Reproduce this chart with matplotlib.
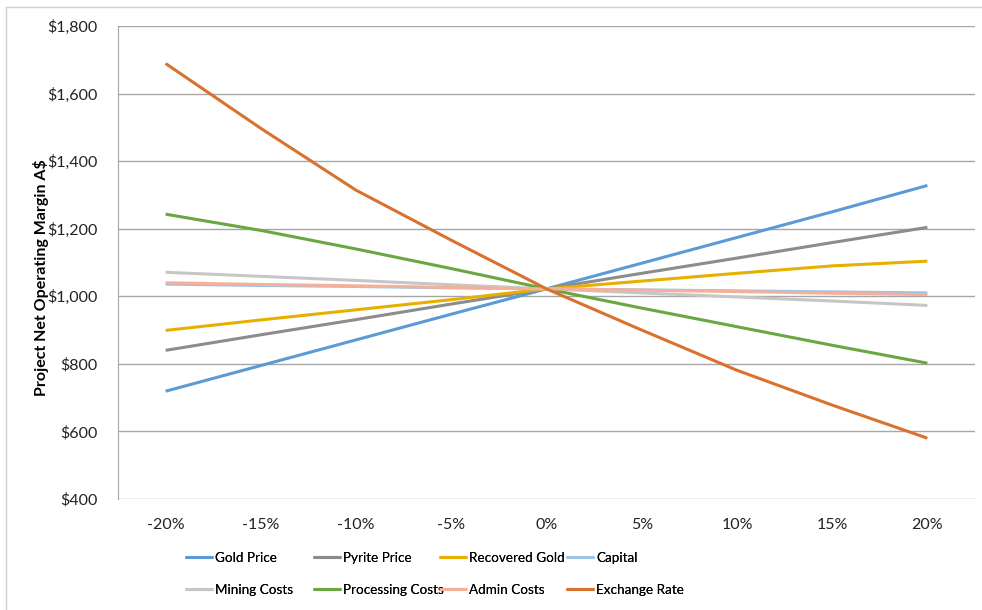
import matplotlib.pyplot as plt
from matplotlib.lines import Line2D

# sensitivity of net operating margin to each input (A$)
changes = ['-20%', '-15%', '-10%', '-5%', '0%', '5%', '10%', '15%', '20%']

gold_price = [719, 795, 871, 947, 1022, 1098, 1174, 1250, 1328]
pyrite_price = [840, 886, 931, 977, 1022, 1068, 1113, 1159, 1204]
recovered_gold = [899, 930, 960, 990, 1022, 1045, 1068, 1090, 1104]
capital = [1036, 1032, 1029, 1025, 1022, 1019, 1016, 1013, 1010]
mining_costs = [1071, 1059, 1047, 1034, 1022, 1010, 998, 986, 973]
processing_costs = [1243, 1195, 1140, 1082, 1022, 965, 910, 855, 802]
admin_costs = [1040, 1035, 1031, 1026, 1022, 1018, 1014, 1009, 1005]
exchange_rate = [1689, 1497, 1314, 1166, 1022, 900, 781, 678, 580]

series = [
    ('Gold Price', gold_price, '#5b9bd5'),
    ('Pyrite Price', pyrite_price, '#8c8c8c'),
    ('Recovered Gold', recovered_gold, '#e7b000'),
    ('Capital', capital, '#9dc3e6'),
    ('Mining Costs', mining_costs, '#c6c6c6'),
    ('Processing Costs', processing_costs, '#6aa742'),
    ('Admin Costs', admin_costs, '#f4b09a'),
    ('Exchange Rate', exchange_rate, '#d9722f'),
]

plt.rcParams['font.family'] = ['Lato', 'DejaVu Sans']
FS = 11.5
LEG_FS = 9.7

fig = plt.figure(figsize=(9.82, 6.10), dpi=100)
ax = fig.add_axes([118 / 982, 1 - 499 / 610, 857 / 982, 473 / 610])

xs = range(len(changes))
handles = []
for name, vals, color in series:
    ln, = ax.plot(xs, vals, color=color, lw=2.2, label=name, solid_capstyle='butt')
    handles.append(ln)

ax.set_xlim(-0.5, len(changes) - 0.5)
ax.set_ylim(400, 1800)
ax.set_yticks(range(400, 1801, 200))
ax.set_yticklabels([f'${v:,}' for v in range(400, 1801, 200)])
ax.set_xticks(list(xs))
ax.set_xticklabels(changes)
ax.tick_params(axis='both', length=0, labelsize=FS, colors='#222222')
ax.tick_params(axis='x', pad=14)
ax.tick_params(axis='y', pad=15)
ax.yaxis.grid(True, color='#a6a6a6', lw=1)
ax.set_axisbelow(True)
for side in ['top', 'right', 'bottom']:
    ax.spines[side].set_visible(False)
ax.spines['left'].set_color('#a6a6a6')

ax.set_ylabel('Project Net Operating Margin A$', fontsize=11.5, fontweight='bold')
ax.yaxis.set_label_coords(-(118 - 49) / 857, (499 - 278) / 473)

# legend laid out as a 2x4 grid with fixed column starts
col_x = [185, 313, 439, 566]
for c, x0 in enumerate(col_x):
    idx = [c, c + 4]
    leg = fig.legend([handles[i] for i in idx], [series[i][0] for i in idx],
                     loc='upper left', bbox_to_anchor=(x0 / 982, 1 - 552 / 610),
                     frameon=False, fontsize=LEG_FS, handlelength=2.1, handletextpad=0.15,
                     labelspacing=1.45, borderpad=0, borderaxespad=0)
    fig.add_artist(leg)

# chart outline
fig.add_artist(Line2D([6 / 982, 6 / 982], [0, 1 - 7 / 610], color='#d0d0d0', lw=1))
fig.add_artist(Line2D([6 / 982, 1], [1 - 7 / 610, 1 - 7 / 610], color='#d0d0d0', lw=1))

fig.savefig('out.png', dpi=100)
